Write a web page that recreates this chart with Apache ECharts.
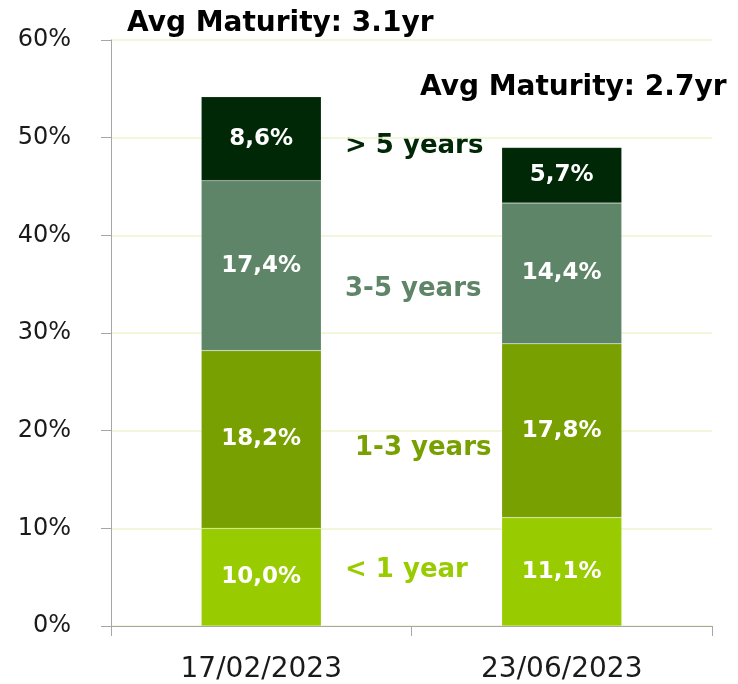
<!DOCTYPE html>
<html>
<head>
<meta charset="utf-8">
<script src="https://cdn.jsdelivr.net/npm/echarts@6/dist/echarts.min.js"></script>
<style>
  html, body { margin: 0; padding: 0; background: #fff; }
  #chart { width: 738px; height: 684px; }
</style>
</head>
<body>
<div id="chart"></div>
<script>
// categories and series values (percent)
const dates = ["17/02/2023", "23/06/2023"];
const lessThan1 = [10.0, 11.1];
const oneToThree = [18.2, 17.8];
const threeToFive = [17.4, 14.4];
const overFive = [8.6, 5.7];
const seriesNames = ["< 1 year", "1-3 years", "3-5 years", "> 5 years"];
const avgMaturity = ["Avg Maturity: 3.1yr", "Avg Maturity: 2.7yr"];

const colorList = ["#99cc00", "#78a000", "#5e8567", "#002806"];
const font = "'DejaVu Sans', sans-serif";

const chart = echarts.init(document.getElementById("chart"));

function barSeries(name, data, color) {
  return {
    name: name,
    type: "bar",
    stack: "total",
    data: data,
    barWidth: 120,
    itemStyle: {
      color: color,
      borderColor: "rgba(255,255,255,0.35)",
      borderWidth: 0.5,
    },
    label: {
      show: true,
      position: "inside",
      color: "#fff",
      fontFamily: font,
      fontWeight: "bold",
      fontSize: 23,
      // comma decimal like the original
      formatter: (p) => p.value.toFixed(1).replace(".", ",") + "%",
    },
  };
}

// series name / title text between the bars
function note(text, x, y, size, color) {
  return {
    type: "text",
    x: x,
    y: y,
    style: {
      text: text,
      font: "bold " + size + "px " + font,
      fill: color,
      textVerticalAlign: "middle",
    },
  };
}

chart.setOption({
  backgroundColor: "#fff",
  animation: false,
  grid: {
    left: 111,
    right: 26,
    top: 40,
    bottom: 58,
  },
  xAxis: {
    type: "category",
    data: dates,
    axisLine: { lineStyle: { color: "#a6a6a6", width: 1 } },
    axisTick: { show: true, length: 10, lineStyle: { color: "#a6a6a6" } },
    axisLabel: {
      color: "#1a1a1a",
      fontFamily: font,
      fontSize: 28,
      margin: 30,
    },
  },
  yAxis: {
    type: "value",
    min: 0,
    max: 60,
    interval: 10,
    axisLine: { show: true, lineStyle: { color: "#a6a6a6" } },
    axisTick: { show: true, length: 10, lineStyle: { color: "#a6a6a6" } },
    axisLabel: {
      color: "#1a1a1a",
      fontFamily: font,
      fontSize: 24,
      margin: 40,
      padding: [5, 0, 0, 0],
      formatter: "{value}%",
    },
    splitLine: { lineStyle: { color: "#ebf5cf", width: 1.5 } },
  },
  graphic: [
    note(avgMaturity[0], 127, 24, 28, "#000"),
    note(avgMaturity[1], 420, 88, 28, "#000"),
    note(seriesNames[3], 345, 146, 26, colorList[3]),
    note(seriesNames[2], 345, 289, 26, colorList[2]),
    note(seriesNames[1], 355, 448, 26, colorList[1]),
    note(seriesNames[0], 345, 570, 26, colorList[0]),
  ],
  series: [
    barSeries(seriesNames[0], lessThan1, colorList[0]),
    barSeries(seriesNames[1], oneToThree, colorList[1]),
    barSeries(seriesNames[2], threeToFive, colorList[2]),
    barSeries(seriesNames[3], overFive, colorList[3]),
  ],
});
</script>
</body>
</html>
